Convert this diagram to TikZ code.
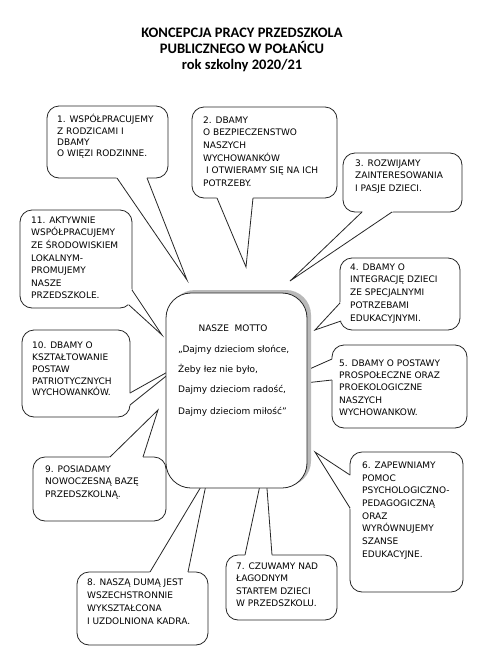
\documentclass[tikz,border=0pt]{standalone}
\usepackage{fontspec}
\setmainfont{DejaVu Sans}
\newfontfamily\titlefont{Carlito}
\usetikzlibrary{calc}
\tikzset{
  x=1pt, y=-1pt,
  bubblebox/.style={draw=black!85, line width=0.8pt, fill=white, rounded corners=12pt},
  wedgeline/.style={draw=black!85, line width=0.8pt},
  txt/.style={anchor=base west, inner sep=0pt},
  ttl/.style={anchor=base, inner sep=0pt, font=\titlefont\bfseries\fontsize{14.5}{16}\selectfont},
  motto/.style={anchor=base west, inner sep=0pt, font=\fontsize{9}{12}\selectfont},
}
\newcommand\bubtext[2]{\parbox[t]{140pt}{\raggedright\fontsize{9}{#1}\selectfont #2}}
\newcommand\wedgeto[3]{%
  \fill[white] ($(#1)!-3pt!(#2)$) -- (#1) -- (#2) -- (#3) -- ($(#3)!-3pt!(#2)$) -- cycle;
  \draw[wedgeline] (#1) -- (#2) -- (#3);
}
\begin{document}
\begin{tikzpicture}
\useasboundingbox (0,0) rectangle (477,665);
\fill[white] (0,0) rectangle (477,665);

% title
\node[ttl] (t1) at (242,37.7) {KONCEPCJA PRACY PRZEDSZKOLA};
\node[ttl] (t2) at (242,53.7) {PUBLICZNEGO W POŁAŃCU};
\node[ttl] (t3) at (242,69.7) {rok szkolny 2020/21};

% 1
\draw[bubblebox] (47,106) rectangle (168,178);
\coordinate (a1) at (117,178); \coordinate (p1) at (187,280); \coordinate (c1) at (147,178);
\wedgeto{a1}{p1}{c1}
\node[txt] (b1) at (57,122.6) {\bubtext{11.4}{1. WSPÓŁPRACUJEMY\\Z RODZICAMI I\\DBAMY\\O WIĘZI RODZINNE.}};

% 2
\draw[bubblebox] (192,107) rectangle (337,198);
\coordinate (a2) at (217,198); \coordinate (p2) at (246,267); \coordinate (c2) at (253,198);
\wedgeto{a2}{p2}{c2}
\node[txt] (b2) at (203,123.3) {\bubtext{12.6}{2. DBAMY\\O BEZPIECZENSTWO\\NASZYCH\\WYCHOWANKÓW\\\hspace*{3pt}I OTWIERAMY SIĘ NA ICH\\POTRZEBY.}};

% 3
\draw[bubblebox] (343,153) rectangle (462,212);
\coordinate (a3) at (362,212); \coordinate (p3) at (290,281); \coordinate (c3) at (392,212);
\wedgeto{a3}{p3}{c3}
\node[txt] (b3) at (355,166) {\bubtext{12.8}{3. ROZWIJAMY\\ZAINTERESOWANIA\\I PASJE DZIECI.}};

% 4
\draw[bubblebox] (340,258) rectangle (460,330);
\coordinate (a4) at (340,303); \coordinate (p4) at (315,330); \coordinate (c4) at (341,321);
\wedgeto{a4}{p4}{c4}
\node[txt] (b4) at (350,270) {\bubtext{12.9}{4. DBAMY O\\INTEGRACJĘ DZIECI\\ZE SPECJALNYMI\\POTRZEBAMI\\EDUKACYJNYMI.}};

% 5
\draw[bubblebox] (332,345) rectangle (467,428);
\coordinate (a5) at (332,359); \coordinate (p5) at (269,387); \coordinate (c5) at (332,380);
\wedgeto{a5}{p5}{c5}
\node[txt] (b5) at (339,366) {\bubtext{12.4}{5. DBAMY O POSTAWY\\PROSPOŁECZNE ORAZ\\PROEKOLOGICZNE\\NASZYCH\\WYCHOWANKOW.}};

% 6
\draw[bubblebox] (350,452) rectangle (463,592);
\coordinate (a6) at (350,475); \coordinate (p6) at (315,452); \coordinate (c6) at (350,508);
\wedgeto{a6}{p6}{c6}
\node[txt] (b6) at (362,468.3) {\bubtext{12.7}{6. ZAPEWNIAMY\\POMOC\\PSYCHOLOGICZNO-\\PEDAGOGICZNĄ\\ORAZ\\WYRÓWNUJEMY\\SZANSE\\EDUKACYJNE.}};

% 7
\draw[bubblebox] (226,555) rectangle (337,620);
\coordinate (a7) at (245,555); \coordinate (p7) at (265,462); \coordinate (c7) at (272,555);
\wedgeto{a7}{p7}{c7}
\node[txt] (b7) at (236,569) {\bubtext{12.5}{7. CZUWAMY NAD\\ŁAGODNYM\\STARTEM DZIECI\\W PRZEDSZKOLU.}};

% 8
\draw[bubblebox] (77,572) rectangle (208,645);
\coordinate (a8) at (150,572); \coordinate (p8) at (208,475); \coordinate (c8) at (188,572);
\wedgeto{a8}{p8}{c8}
\node[txt] (b8) at (87,585) {\bubtext{13}{8. NASZĄ DUMĄ JEST\\WSZECHSTRONNIE\\WYKSZTAŁCONA\\I UZDOLNIONA KADRA.}};

% 9
\draw[bubblebox] (33,457) rectangle (166,521);
\coordinate (a9) at (110,457); \coordinate (p9) at (158,410); \coordinate (c9) at (143,457);
\wedgeto{a9}{p9}{c9}
\node[txt] (b9) at (45,472.3) {\bubtext{12.5}{9. POSIADAMY\\NOWOCZESNĄ BAZĘ\\PRZEDSZKOLNĄ.}};

% 10
\draw[bubblebox] (22,330) rectangle (130,417);
\coordinate (a10) at (130,393); \coordinate (p10) at (180,365); \coordinate (c10) at (130,405);
\wedgeto{a10}{p10}{c10}
\node[txt] (b10) at (32,348.3) {\bubtext{11.9}{10. DBAMY O\\KSZTAŁTOWANIE\\POSTAW\\PATRIOTYCZNYCH\\WYCHOWANKÓW.}};

% 11
\draw[bubblebox] (20,210) rectangle (132,308);
\coordinate (a11) at (132,290); \coordinate (p11) at (162,335); \coordinate (c11) at (129,305);
\wedgeto{a11}{p11}{c11}
\node[txt] (b11) at (31,223.3) {\bubtext{12.6}{11. AKTYWNIE\\WSPÓŁPRACUJEMY\\ZE ŚRODOWISKIEM\\LOKALNYM-\\PROMUJEMY\\NASZE\\PRZEDSZKOLE.}};

% central box
\fill[gray!55, rounded corners=25pt] (170,290) rectangle (311,486);
\draw[fill=white, draw=black!85, line width=0.8pt, rounded corners=25pt] (166,293) rectangle (307,488);
\node[anchor=base, inner sep=0pt, font=\fontsize{9}{12}\selectfont] (m0) at (233,331.3) {NASZE\ \ MOTTO};
\node[motto] (m1) at (178,352.5) {„Dajmy dzieciom słońce,};
\node[motto] (m2) at (178,372.5) {Żeby łez nie było,};
\node[motto] (m3) at (178,392.5) {Dajmy dzieciom radość,};
\node[motto] (m4) at (178,414.5) {Dajmy dzieciom miłość”};
\end{tikzpicture}
\end{document}
